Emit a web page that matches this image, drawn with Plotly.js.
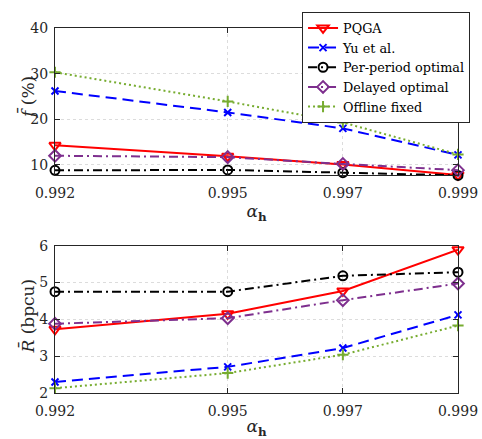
<!DOCTYPE html>
<html><head><meta charset="utf-8">
<script src="https://cdn.plot.ly/plotly-3.0.1.min.js"></script>
<style>html,body{margin:0;padding:0;background:#fff}#c{width:482px;height:439px}</style>
</head><body><div id="c"></div>
<script>
const alphaH = [0.992, 0.995, 0.997, 0.999];
const tickLabels = ['0.992', '0.995', '0.997', '0.999'];
const seriesNames = ['PQGA', 'Yu et al.', 'Per-period optimal', 'Delayed optimal', 'Offline fixed'];
// top panel: f-bar (%)
const fPQGA = [14.3, 11.9, 10.1, 7.8];
const fYu = [26.2, 21.5, 18.0, 12.2];
const fPerPeriod = [8.8, 8.9, 8.3, 7.7];
const fDelayed = [12.0, 11.7, 10.2, 8.85];
const fOffline = [30.3, 23.9, 19.3, 12.3];
// bottom panel: R-bar (bpcu)
const rPQGA = [3.73, 4.15, 4.77, 5.89];
const rYu = [2.30, 2.71, 3.22, 4.12];
const rPerPeriod = [4.75, 4.75, 5.18, 5.28];
const rDelayed = [3.88, 4.03, 4.52, 4.97];
const rOffline = [2.13, 2.54, 3.04, 3.83];

const styles = [
  {color:'#ff0000', dash:'solid', symbol:'triangle-down-open', size:10},
  {color:'#0000ff', dash:'11px,6px', symbol:'x-thin-open', size:7},
  {color:'#000000', dash:'9px,4px,2px,4px', symbol:'circle-open', size:9},
  {color:'#7e2f8e', dash:'9px,4px,2px,4px', symbol:'diamond-open', size:9},
  {color:'#77ac30', dash:'2px,3px', symbol:'cross-thin-open', size:8}
];
const topData = [fPQGA, fYu, fPerPeriod, fDelayed, fOffline];
const botData = [rPQGA, rYu, rPerPeriod, rDelayed, rOffline];
const traces = [];
topData.forEach((d,i)=>{
  const s = styles[i];
  traces.push({x:alphaH, y:d, xaxis:'x', yaxis:'y', name:seriesNames[i], mode:'lines+markers',
    line:{color:s.color, dash:s.dash, width:2},
    marker:{symbol:s.symbol, size:s.size, color:s.color, line:{color:s.color, width:2}},
    showlegend:true, cliponaxis:false});
});
botData.forEach((d,i)=>{
  const s = styles[i];
  traces.push({x:alphaH, y:d, xaxis:'x2', yaxis:'y2', name:seriesNames[i], mode:'lines+markers',
    line:{color:s.color, dash:s.dash, width:2},
    marker:{symbol:s.symbol, size:s.size, color:s.color, line:{color:s.color, width:2}},
    showlegend:false, cliponaxis:false});
});
const fontFam = 'DejaVu Serif';
const axCommon = {
  showline:true, linecolor:'#262626', linewidth:1, mirror:'ticks',
  ticks:'inside', ticklen:5, tickcolor:'#262626',
  showgrid:true, gridcolor:'#dcdcdc', griddash:'dot', gridwidth:1,
  zeroline:false, tickfont:{family:fontFam, size:14, color:'#262626'}
};
const xTitle = {text:'<i>α</i><sub><b>h</b></sub>', font:{family:fontFam, size:17, color:'#262626'}, standoff:2};
const yTitleFont = {family:fontFam, size:17, color:'#262626'};
const layout = {
  width:482, height:439,
  margin:{l:55, r:24, t:24, b:46},
  paper_bgcolor:'#fff', plot_bgcolor:'#fff',
  font:{family:fontFam, color:'#262626'},
  xaxis:Object.assign({}, axCommon, {domain:[0,1], anchor:'y', range:[0.992,0.999],
    tickvals:alphaH, ticktext:tickLabels, title:xTitle, ticklabelstandoff:5}),
  yaxis:Object.assign({}, axCommon, {domain:[0.5962,1], anchor:'x', range:[7.7,40],
    tickvals:[10,20,30,40], ticklabelstandoff:3}),
  xaxis2:Object.assign({}, axCommon, {domain:[0,1], anchor:'y2', range:[0.992,0.999],
    tickvals:alphaH, ticktext:tickLabels, title:xTitle, ticklabelstandoff:5}),
  yaxis2:Object.assign({}, axCommon, {domain:[0,0.4038], anchor:'x2', range:[2,6],
    tickvals:[2,3,4,5,6], ticklabelstandoff:3}),
  annotations:[
    {text:'<i>f̄</i> (%)', xref:'paper', yref:'paper', x:-0.068, y:0.81, xanchor:'center', yanchor:'middle',
     textangle:-90, showarrow:false, font:yTitleFont},
    {text:'<i>R̄</i> (bpcu)', xref:'paper', yref:'paper', x:-0.068, y:0.211, xanchor:'center', yanchor:'middle',
     textangle:-90, showarrow:false, font:yTitleFont}
  ],
  legend:{x:0.613, y:1.0434, xanchor:'left', yanchor:'top', bgcolor:'#fff',
    bordercolor:'#262626', borderwidth:1, font:{family:fontFam, size:12.8, color:'#000'},
    tracegroupgap:0, itemwidth:30},
  showlegend:true
};
Plotly.newPlot('c', traces, layout, {displayModeBar:false, staticPlot:true});
</script>
</body></html>
